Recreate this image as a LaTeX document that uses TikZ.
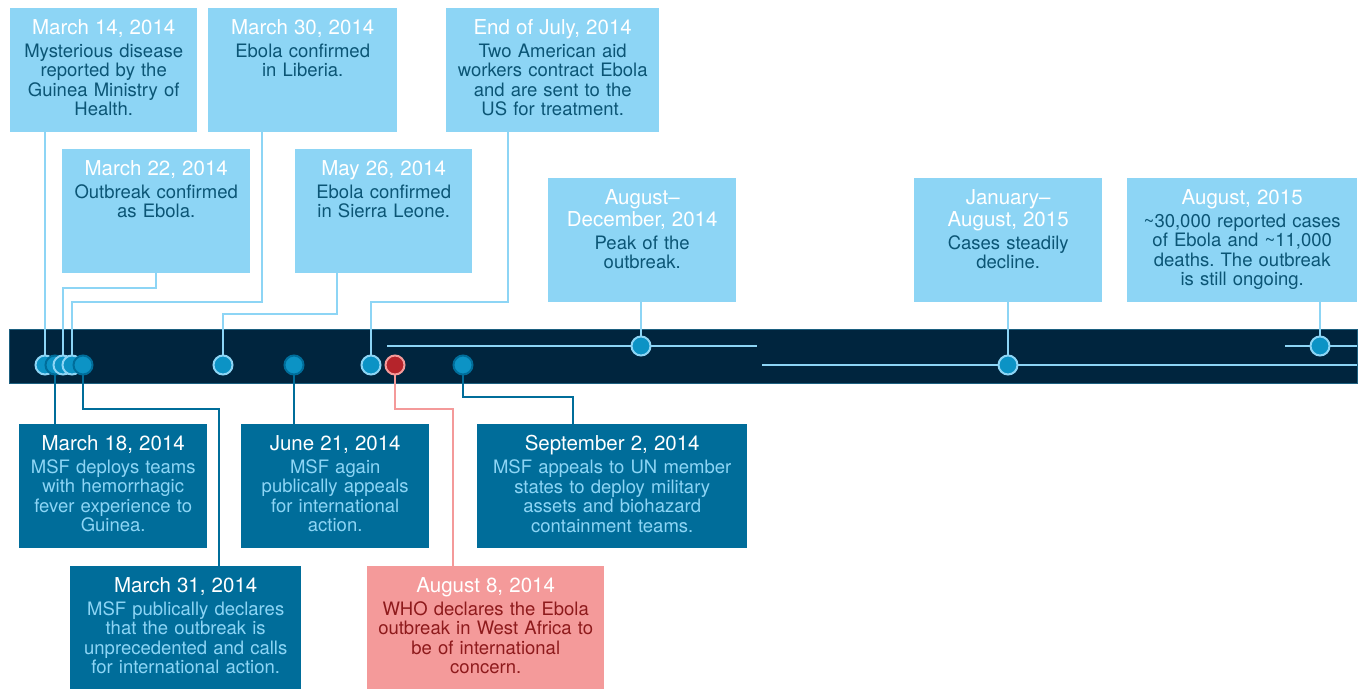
\documentclass[tikz,border=0pt]{standalone}
\usepackage{fontspec}
\setmainfont{TeX Gyre Heros}
\usetikzlibrary{positioning}
\frenchspacing
\definecolor{barnavy}{HTML}{00253E}
\definecolor{baredge}{HTML}{1D6080}
\definecolor{skyfill}{HTML}{8DD5F5}
\definecolor{skytext}{HTML}{0B5575}
\definecolor{seafill}{HTML}{006D9A}
\definecolor{redfill}{HTML}{F49A9A}
\definecolor{redtext}{HTML}{8E1A1C}
\definecolor{dotblue}{HTML}{0C93C5}
\definecolor{dotred}{HTML}{B5242B}
\newcommand{\evdate}[1]{{\color{white}\fontsize{20.5}{22}\selectfont #1}}
\begin{document}
\begin{tikzpicture}[x=1pt,y=-1pt,
  skybox/.style={fill=skyfill,inner sep=0pt,anchor=north west,minimum height=124pt},
  seabox/.style={fill=seafill,inner sep=0pt,anchor=north west,minimum height=124pt},
  redbox/.style={fill=redfill,inner sep=0pt,anchor=north west,minimum height=124pt},
  evtext/.style={inner sep=0pt,align=center,font=\fontsize{18.5}{19.5}\selectfont},
  skyline/.style={draw=skyfill,line width=2pt},
  sealine/.style={draw=seafill,line width=2pt},
  redline/.style={draw=redfill,line width=2pt},
  spanline/.style={draw=skyfill,line width=2.5pt},
  skydot/.style={circle,fill=dotblue,draw=skyfill,line width=2pt,minimum size=19pt,inner sep=0pt},
  seadot/.style={circle,fill=dotblue,draw=seafill,line width=2pt,minimum size=19pt,inner sep=0pt},
  reddot/.style={circle,fill=dotred,draw=redfill,line width=2pt,minimum size=19pt,inner sep=0pt}]
\useasboundingbox (0,0) rectangle (1362,688);

\node[fill=barnavy,draw=baredge,line width=1pt,inner sep=0pt,anchor=north west,
  minimum width=1348pt,minimum height=54pt] (bar) at (9,329) {};
\draw[spanline] (387,346) -- (757,346);
\draw[spanline] (762,365) -- (1357,365);
\draw[spanline] (1285,346) -- (1357,346);

\coordinate (p14) at (45,365);
\coordinate (p18) at (55,365);
\coordinate (p22) at (63,365);
\coordinate (p30) at (72,365);
\coordinate (p31) at (83,365);
\coordinate (p26) at (223,365);
\coordinate (p21) at (294,365);
\coordinate (pjul) at (371,365);
\coordinate (p8) at (395,365);
\coordinate (p2) at (463,365);
\coordinate (pad) at (641,346);
\coordinate (pja) at (1008,365);
\coordinate (pau) at (1320,346);

% above the bar
\node[skybox,minimum width=187pt] (b14) at (10,8) {};
\node[evtext,text width=185pt,text=skytext,below=11pt of b14.north] (t14)
  {\evdate{March 14, 2014}\\[3.5pt]Mysterious disease\\reported by the\\Guinea Ministry of\\Health.};
\node[skybox,minimum width=189pt] (b30) at (208,8) {};
\node[evtext,text width=185pt,text=skytext,below=11pt of b30.north] (t30)
  {\evdate{March 30, 2014}\\[3.5pt]Ebola confirmed\\in Liberia.};
\node[skybox,minimum width=213pt] (bjul) at (446,8) {};
\node[evtext,text width=210pt,text=skytext,below=11pt of bjul.north] (tjul)
  {\evdate{End of July, 2014}\\[3.5pt]Two American aid\\workers contract Ebola\\and are sent to the\\US for treatment.};
\node[skybox,minimum width=188pt] (b22) at (62,149) {};
\node[evtext,text width=185pt,text=skytext,below=11pt of b22.north] (t22)
  {\evdate{March 22, 2014}\\[3.5pt]Outbreak confirmed\\as Ebola.};
\node[skybox,minimum width=177pt] (b26) at (295,149) {};
\node[evtext,text width=175pt,text=skytext,below=11pt of b26.north] (t26)
  {\evdate{May 26, 2014}\\[3.5pt]Ebola confirmed\\in Sierra Leone.};
\node[skybox,minimum width=188pt] (bad) at (548,178) {};
\node[evtext,text width=185pt,text=skytext,below=11pt of bad.north] (tad)
  {\evdate{August--\\[2.5pt]December, 2014}\\[3.5pt]Peak of the\\outbreak.};
\node[skybox,minimum width=188pt] (bja) at (914,178) {};
\node[evtext,text width=185pt,text=skytext,below=11pt of bja.north] (tja)
  {\evdate{January--\\[2.5pt]August, 2015}\\[3.5pt]Cases steadily\\decline.};
\node[skybox,minimum width=230pt] (bau) at (1127,178) {};
\node[evtext,text width=225pt,text=skytext,below=11pt of bau.north] (tau)
  {\evdate{August, 2015}\\[3.5pt]\textasciitilde{}30,000 reported cases\\of Ebola and \textasciitilde{}11,000\\deaths. The outbreak\\is still ongoing.};

% below the bar
\node[seabox,minimum width=188pt] (b18) at (19,424) {};
\node[evtext,text width=185pt,text=skyfill,below=11pt of b18.north] (t18)
  {\evdate{March 18, 2014}\\[3.5pt]MSF deploys teams\\with hemorrhagic\\fever experience to\\Guinea.};
\node[seabox,minimum width=231pt] (b31) at (70,566) {};
\node[evtext,text width=228pt,text=skyfill,below=11pt of b31.north] (t31)
  {\evdate{March 31, 2014}\\[3.5pt]MSF publically declares\\that the outbreak is\\unprecedented and calls\\for international action.};
\node[seabox,minimum width=188pt] (b21) at (241,424) {};
\node[evtext,text width=185pt,text=skyfill,below=11pt of b21.north] (t21)
  {\evdate{June 21, 2014}\\[3.5pt]MSF again\\publically appeals\\for international\\action.};
\node[redbox,minimum width=237pt] (b8) at (367,566) {};
\node[evtext,text width=234pt,text=redtext,below=11pt of b8.north] (t8)
  {\evdate{August 8, 2014}\\[3.5pt]WHO declares the Ebola\\outbreak in West Africa to\\be of international\\concern.};
\node[seabox,minimum width=270pt] (b2) at (477,424) {};
\node[evtext,text width=266pt,text=skyfill,below=11pt of b2.north] (t2)
  {\evdate{September 2, 2014}\\[3.5pt]MSF appeals to UN member\\states to deploy military\\assets and biohazard\\containment teams.};

% leaders
\draw[skyline] (b14.south -| p14) -- (p14);
\draw[skyline] ([xshift=94pt]b22.south west) -- ++(0,15) -| (p22);
\draw[skyline] ([xshift=54pt]b30.south west) -- ++(0,170) -| (p30);
\draw[skyline] ([xshift=42pt]b26.south west) -- ++(0,41) -| (p26);
\draw[skyline] ([xshift=62pt]bjul.south west) -- ++(0,170) -| (pjul);
\draw[skyline] (bad.south -| pad) -- (pad);
\draw[skyline] (bja.south -| pja) -- (pja);
\draw[skyline] (bau.south -| pau) -- (pau);
\draw[sealine] (p18) -- (p18 |- b18.north);
\draw[sealine] (p31) -- ++(0,44) -| ([xshift=149pt]b31.north west);
\draw[sealine] (p21) -- (p21 |- b21.north);
\draw[redline] (p8) -- ++(0,44) -| ([xshift=86pt]b8.north west);
\draw[sealine] (p2) -- ++(0,32) -| ([xshift=96pt]b2.north west);

% dots
\node[skydot] (d14) at (p14) {};
\node[seadot] (d18) at (p18) {};
\node[skydot] (d22) at (p22) {};
\node[skydot] (d30) at (p30) {};
\node[seadot] (d31) at (p31) {};
\node[skydot] (d26) at (p26) {};
\node[seadot] (d21) at (p21) {};
\node[skydot] (djul) at (pjul) {};
\node[reddot] (d8) at (p8) {};
\node[seadot] (d2) at (p2) {};
\node[skydot] (dad) at (pad) {};
\node[skydot] (dja) at (pja) {};
\node[skydot] (dau) at (pau) {};
\end{tikzpicture}
\end{document}
